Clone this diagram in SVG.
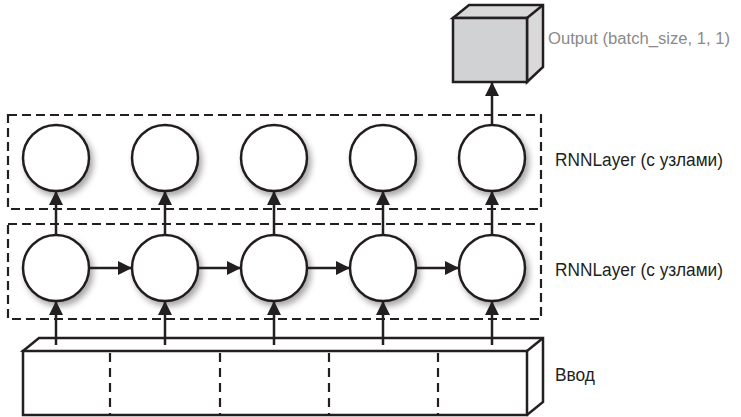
<svg xmlns="http://www.w3.org/2000/svg" width="741" height="417" viewBox="0 0 741 417">
<style>
.box{fill:none;stroke:#231f20;stroke-width:2.2;stroke-dasharray:9 5}
.node{fill:#fff;stroke:#231f20;stroke-width:2.5;filter:url(#sh)}
.edge{stroke:#231f20;stroke-width:2.5;fill:none;marker-end:url(#ah)}
.solid{stroke:#231f20;stroke-width:2.5;stroke-linejoin:miter}
.div{stroke:#231f20;stroke-width:2.2;stroke-dasharray:9 6}
.lbl{font-family:"Liberation Sans",Arial,sans-serif;font-size:18px;fill:#231f20}
.out{font-size:16px;fill:#8a8a8a}
</style>
<defs>
<filter id="sh" x="-30%" y="-30%" width="170%" height="170%">
<feDropShadow dx="3" dy="4" stdDeviation="3" flood-color="#000" flood-opacity="0.35"/>
</filter>
<marker id="ah" markerUnits="userSpaceOnUse" markerWidth="14" markerHeight="14" viewBox="0 0 14 14" refX="13" refY="7" orient="auto">
<path d="M0,0 L14,7 L0,14 z" fill="#231f20"/>
</marker>
</defs>
<rect width="741" height="417" fill="#fff"/>
<g id="layer2-box"><rect class="box" x="8" y="115" width="533" height="94"/></g>
<g id="layer1-box"><rect class="box" x="8" y="224" width="533" height="95"/></g>
<g id="input">
<path class="solid" d="M23,351 L39,338 L543,338 L543,402 L527,415 Z" fill="#fff"/>
<rect class="solid" x="23" y="351" width="504" height="64" fill="#fff"/>
<line class="solid" x1="527" y1="351" x2="543" y2="338"/>
<line class="div" x1="110" y1="353" x2="110" y2="414"/>
<line class="div" x1="220" y1="353" x2="220" y2="414"/>
<line class="div" x1="329" y1="353" x2="329" y2="414"/>
<line class="div" x1="438" y1="353" x2="438" y2="414"/>
</g>
<g id="output">
<path class="solid" d="M453,18 L469,5 L543,5 L543,67 L527,82 L527,18 Z" fill="#d9d9da"/>
<rect class="solid" x="453" y="18" width="74" height="64" fill="#d1d2d4"/>
<line class="solid" x1="527" y1="18" x2="543" y2="5"/>
</g>
<g id="nodes-top">
<circle class="node" cx="56" cy="158" r="33"/>
<circle class="node" cx="165" cy="158" r="33"/>
<circle class="node" cx="274" cy="158" r="33"/>
<circle class="node" cx="383" cy="158" r="33"/>
<circle class="node" cx="492" cy="158" r="33"/>
</g>
<g id="nodes-bottom">
<circle class="node" cx="56" cy="268" r="33"/>
<circle class="node" cx="165" cy="268" r="33"/>
<circle class="node" cx="274" cy="268" r="33"/>
<circle class="node" cx="383" cy="268" r="33"/>
<circle class="node" cx="492" cy="268" r="33"/>
</g>
<g id="connectors">
<line class="edge" x1="56" y1="345" x2="56" y2="302"/>
<line class="edge" x1="165" y1="345" x2="165" y2="302"/>
<line class="edge" x1="274" y1="345" x2="274" y2="302"/>
<line class="edge" x1="383" y1="345" x2="383" y2="302"/>
<line class="edge" x1="492" y1="345" x2="492" y2="302"/>
<line class="edge" x1="56" y1="235" x2="56" y2="192"/>
<line class="edge" x1="165" y1="235" x2="165" y2="192"/>
<line class="edge" x1="274" y1="235" x2="274" y2="192"/>
<line class="edge" x1="383" y1="235" x2="383" y2="192"/>
<line class="edge" x1="492" y1="235" x2="492" y2="192"/>
<line class="edge" x1="89" y1="268" x2="131" y2="268"/>
<line class="edge" x1="198" y1="268" x2="240" y2="268"/>
<line class="edge" x1="307" y1="268" x2="349" y2="268"/>
<line class="edge" x1="416" y1="268" x2="458" y2="268"/>
<line class="edge" x1="492" y1="125" x2="492" y2="83"/>
</g>
<g id="labels">
<text class="lbl out" x="548" y="44" textLength="182" lengthAdjust="spacingAndGlyphs">Output (batch_size, 1, 1)</text>
<text class="lbl" x="555" y="166" textLength="168" lengthAdjust="spacingAndGlyphs">RNNLayer (с узлами)</text>
<text class="lbl" x="555" y="276" textLength="168" lengthAdjust="spacingAndGlyphs">RNNLayer (с узлами)</text>
<text class="lbl" x="555" y="381" textLength="40" lengthAdjust="spacingAndGlyphs">Ввод</text>
</g>
</svg>
